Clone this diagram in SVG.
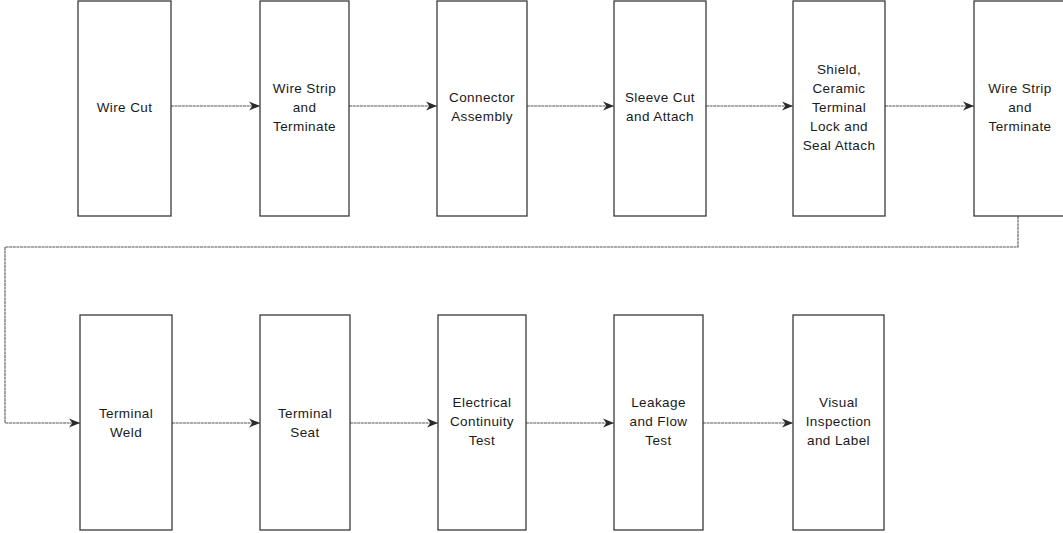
<svg xmlns="http://www.w3.org/2000/svg" width="1063" height="533" viewBox="0 0 1063 533">
<style>
.box{fill:#fff;stroke:#3a3a3a;stroke-width:1.3}
.t{font-family:"Liberation Sans",Arial,sans-serif;font-size:13.5px;letter-spacing:0.4px;fill:#1a1a1a;text-anchor:middle}
.c{fill:none;stroke:#555;stroke-width:1.1;stroke-dasharray:3 0.6}
</style>
<defs>
<marker id="ah" viewBox="0 0 10 10" refX="10" refY="5" markerWidth="11" markerHeight="11" markerUnits="userSpaceOnUse" orient="auto">
<path d="M0,1 L10,5 L0,9 L3,5 Z" fill="#2a2a2a"/>
</marker>
</defs>
<rect width="1063" height="533" fill="#fff"/>
<g id="connectors">
<line class="c" x1="171" y1="106" x2="260" y2="106" marker-end="url(#ah)"/>
<line class="c" x1="349" y1="106" x2="437" y2="106" marker-end="url(#ah)"/>
<line class="c" x1="527" y1="106" x2="614" y2="106" marker-end="url(#ah)"/>
<line class="c" x1="706" y1="106" x2="793" y2="106" marker-end="url(#ah)"/>
<line class="c" x1="885" y1="106" x2="974" y2="106" marker-end="url(#ah)"/>
<polyline class="c" points="1018,216 1018,247 5,247 5,423 80,423" marker-end="url(#ah)"/>
<line class="c" x1="172" y1="423" x2="260" y2="423" marker-end="url(#ah)"/>
<line class="c" x1="350" y1="423" x2="438" y2="423" marker-end="url(#ah)"/>
<line class="c" x1="526" y1="423" x2="614" y2="423" marker-end="url(#ah)"/>
<line class="c" x1="703" y1="423" x2="793" y2="423" marker-end="url(#ah)"/>
</g>
<g id="n1"><rect class="box" x="78" y="1" width="93" height="215"/><text class="t" x="124.5" y="112">Wire Cut</text></g>
<g id="n2"><rect class="box" x="260" y="1" width="89" height="215"/><text class="t" x="304.5" y="93">Wire Strip</text><text class="t" x="304.5" y="112">and</text><text class="t" x="304.5" y="131">Terminate</text></g>
<g id="n3"><rect class="box" x="437" y="1" width="90" height="215"/><text class="t" x="482" y="102">Connector</text><text class="t" x="482" y="121">Assembly</text></g>
<g id="n4"><rect class="box" x="614" y="1" width="92" height="215"/><text class="t" x="660" y="102">Sleeve Cut</text><text class="t" x="660" y="121">and Attach</text></g>
<g id="n5"><rect class="box" x="793" y="1" width="92" height="215"/><text class="t" x="839" y="74">Shield,</text><text class="t" x="839" y="93">Ceramic</text><text class="t" x="839" y="112">Terminal</text><text class="t" x="839" y="131">Lock and</text><text class="t" x="839" y="150">Seal Attach</text></g>
<g id="n6"><rect class="box" x="974" y="1" width="100" height="215"/><text class="t" x="1020" y="93">Wire Strip</text><text class="t" x="1020" y="112">and</text><text class="t" x="1020" y="131">Terminate</text></g>
<g id="n7"><rect class="box" x="80" y="315" width="92" height="215"/><text class="t" x="126" y="418">Terminal</text><text class="t" x="126" y="437">Weld</text></g>
<g id="n8"><rect class="box" x="260" y="315" width="90" height="215"/><text class="t" x="305" y="418">Terminal</text><text class="t" x="305" y="437">Seat</text></g>
<g id="n9"><rect class="box" x="438" y="315" width="88" height="215"/><text class="t" x="482" y="407">Electrical</text><text class="t" x="482" y="426">Continuity</text><text class="t" x="482" y="445">Test</text></g>
<g id="n10"><rect class="box" x="614" y="315" width="89" height="215"/><text class="t" x="658.5" y="407">Leakage</text><text class="t" x="658.5" y="426">and  Flow</text><text class="t" x="658.5" y="445">Test</text></g>
<g id="n11"><rect class="box" x="793" y="315" width="91" height="215"/><text class="t" x="838.5" y="407">Visual</text><text class="t" x="838.5" y="426">Inspection</text><text class="t" x="838.5" y="445">and Label</text></g>
</svg>
